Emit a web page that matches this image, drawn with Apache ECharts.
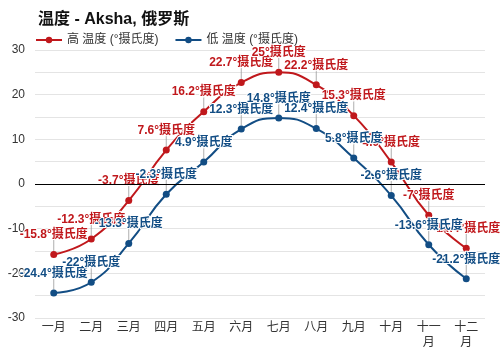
<!DOCTYPE html>
<html><head><meta charset="utf-8">
<script src="https://cdn.jsdelivr.net/npm/echarts@6/dist/echarts.min.js"></script>
<style>html,body{margin:0;padding:0;background:#fff}#c{width:500px;height:350px}</style>
</head><body><div id="c"></div>
<script>
const categories = ['一月','二月','三月','四月','五月','六月','七月','八月','九月','十月','十一月','十二月'];
const highTemps = [-15.8, -12.3, -3.7, 7.6, 16.2, 22.7, 25, 22.2, 15.3, 4.9, -7, -14.4];
const lowTemps = [-24.4, -22, -13.3, -2.3, 4.9, 12.3, 14.8, 12.4, 5.8, -2.6, -13.6, -21.2];
const yTicks = [-30, -20, -10, 0, 10, 20, 30];
const FONT = '"Liberation Sans", "Noto Sans CJK SC", sans-serif';
const HIGH_NAME = '高 温度 (°摄氏度)', LOW_NAME = '低 温度 (°摄氏度)';

function mkLabel(color){
  return {
    show: true, position: 'top', distance: 10,
    formatter: p => p.value + '°摄氏度',
    color: color, fontWeight: 'bold', fontSize: 12, fontFamily: FONT,
    textBorderColor: '#fff', textBorderWidth: 2
  };
}
function leader(data){
  return { type: 'scatter', data: data, symbol: 'rect', symbolSize: [1, 11],
    symbolOffset: [0, -9], itemStyle: { color: '#9a9a9a' }, z: 1, silent: true,
    label: { show: false }, tooltip: { show: false } };
}
const chart = echarts.init(document.getElementById('c'));
chart.setOption({
  animation: false,
  title: { text: '温度 - Aksha, 俄罗斯', left: 33, top: 7,
    textStyle: { fontSize: 16, fontWeight: 'bold', color: '#111', fontFamily: FONT } },
  legend: { left: 30, top: 29, itemWidth: 26, itemHeight: 8, itemGap: 16,
    textStyle: { fontSize: 12, color: '#333', fontFamily: FONT },
    data: [HIGH_NAME, LOW_NAME] },
  grid: { left: 35, right: 15, top: 50, bottom: 32, containLabel: false, outerBoundsMode: 'none' },
  xAxis: { type: 'category', data: categories, boundaryGap: true,
    axisLine: { show: false }, axisTick: { show: false },
    axisLabel: { color: '#333', fontSize: 12, fontFamily: FONT, margin: 2, lineHeight: 15,
      formatter: v => v.length > 2 ? v.slice(0,2) + '\n' + v.slice(2) : v } },
  yAxis: { type: 'value', min: -30, max: 30, interval: 5,
    axisLine: { show: false }, axisTick: { show: false },
    axisLabel: { color: '#333', fontSize: 12, fontFamily: FONT, margin: 10,
      formatter: v => yTicks.includes(v) ? String(v) : '' },
    splitLine: { lineStyle: { color: '#e4e4e4', width: 1 } } },
  series: [
    leader(highTemps),
    leader(lowTemps),
    { name: HIGH_NAME, type: 'line', data: highTemps, smooth: true, z: 3,
      symbol: 'circle', symbolSize: 7, color: '#c0181c',
      lineStyle: { width: 2, color: '#c0181c' },
      label: mkLabel('#c0181c'),
      markLine: { silent: true, symbol: 'none', label: { show: false },
        lineStyle: { color: '#000', width: 1, type: 'solid' }, data: [{ yAxis: 0 }] } },
    { name: LOW_NAME, type: 'line', data: lowTemps, smooth: true, z: 3,
      symbol: 'circle', symbolSize: 7, color: '#124d84',
      lineStyle: { width: 2, color: '#124d84' },
      label: mkLabel('#124d84') }
  ]
});
</script></body></html>
